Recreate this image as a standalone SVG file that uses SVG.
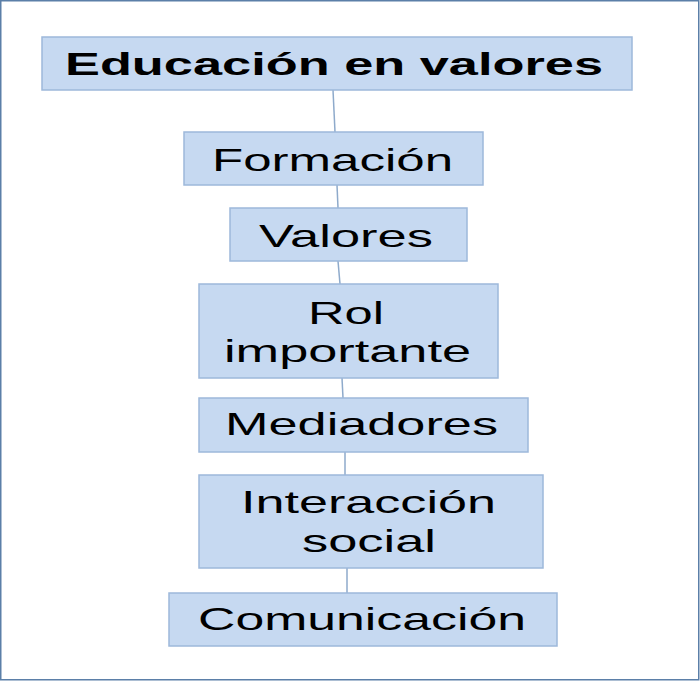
<svg xmlns="http://www.w3.org/2000/svg" width="700" height="681" viewBox="0 0 700 681">
<style>
.box{fill:#c6d9f1;stroke:#9db8da;stroke-width:1.5}
.t{font-family:"Liberation Sans",Arial,sans-serif;font-size:32px;fill:#000}
.b{font-weight:bold}
.c{stroke:#8eaacb;stroke-width:1.5;fill:none}
</style>
<rect x="0" y="0" width="700" height="681" fill="#ffffff"/>
<rect x="0.75" y="0.75" width="698" height="679" fill="none" stroke="#5b7fa8" stroke-width="1.5"/>
<g id="connectors">
<line class="c" x1="333" y1="90" x2="335" y2="132"/>
<line class="c" x1="337" y1="185" x2="338" y2="208"/>
<line class="c" x1="338" y1="261" x2="340" y2="284"/>
<line class="c" x1="342" y1="378" x2="343" y2="398"/>
<line class="c" x1="345" y1="452" x2="345" y2="475"/>
<line class="c" x1="347" y1="568" x2="347" y2="593"/>
</g>
<g id="n1">
<rect class="box" x="42" y="37" width="590" height="53"/>
<text class="t b" x="65" y="75" textLength="538" lengthAdjust="spacingAndGlyphs">Educación en valores</text>
</g>
<g id="n2">
<rect class="box" x="184" y="132" width="299" height="53"/>
<text class="t" x="212" y="171" textLength="241" lengthAdjust="spacingAndGlyphs">Formación</text>
</g>
<g id="n3">
<rect class="box" x="230" y="208" width="237" height="53"/>
<text class="t" x="259" y="247" textLength="174" lengthAdjust="spacingAndGlyphs">Valores</text>
</g>
<g id="n4">
<rect class="box" x="199" y="284" width="299" height="94"/>
<text class="t" x="308" y="324" textLength="76" lengthAdjust="spacingAndGlyphs">Rol</text>
<text class="t" x="224" y="362" textLength="247" lengthAdjust="spacingAndGlyphs">importante</text>
</g>
<g id="n5">
<rect class="box" x="199" y="398" width="329" height="54"/>
<text class="t" x="225" y="435" textLength="273" lengthAdjust="spacingAndGlyphs">Mediadores</text>
</g>
<g id="n6">
<rect class="box" x="199" y="475" width="344" height="93"/>
<text class="t" x="241" y="513" textLength="255" lengthAdjust="spacingAndGlyphs">Interacción</text>
<text class="t" x="302" y="552" textLength="134" lengthAdjust="spacingAndGlyphs">social</text>
</g>
<g id="n7">
<rect class="box" x="169" y="593" width="388" height="53"/>
<text class="t" x="198" y="630" textLength="328" lengthAdjust="spacingAndGlyphs">Comunicación</text>
</g>
</svg>
